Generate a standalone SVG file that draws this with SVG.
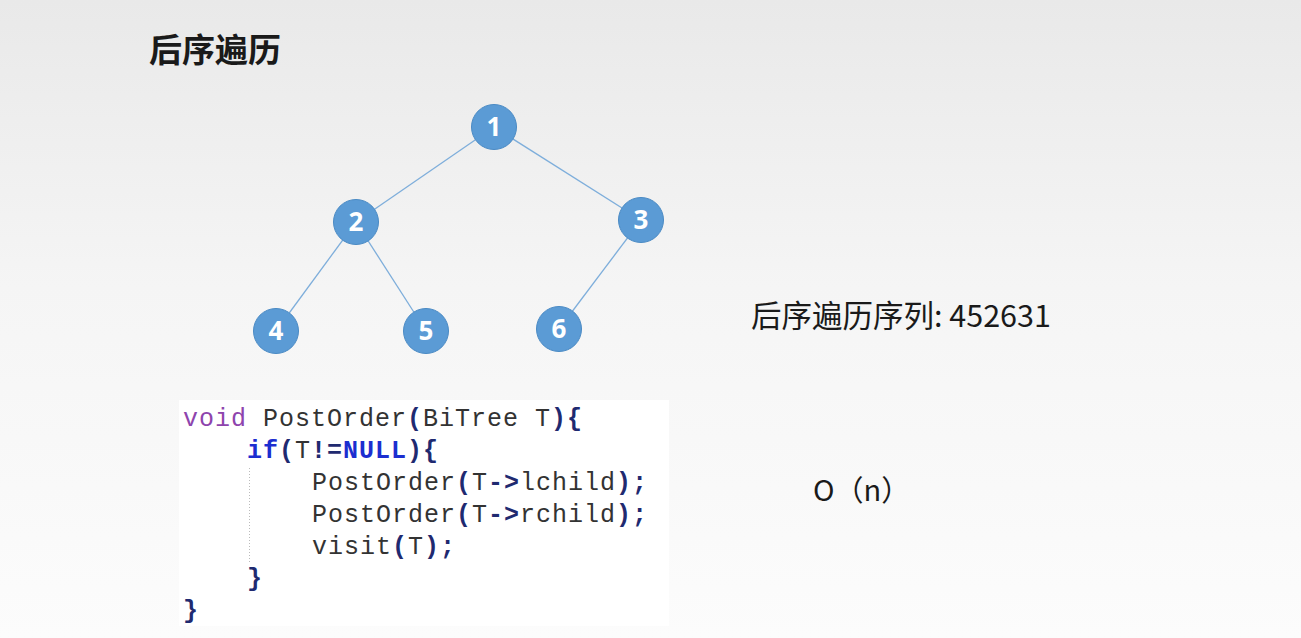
<svg xmlns="http://www.w3.org/2000/svg" width="1301" height="638" viewBox="0 0 1301 638">
<defs>
<linearGradient id="bg" x1="0" y1="0" x2="0" y2="1">
<stop offset="0" stop-color="#e9e9e9"/>
<stop offset="0.45" stop-color="#f5f5f5"/>
<stop offset="1" stop-color="#fcfcfc"/>
</linearGradient>
<style>
.node circle{fill:#5b9bd5;stroke:#4a8ac4;stroke-width:1}
.node text{fill:#fff;font-family:"Noto Sans","Noto Sans CJK SC",sans-serif;font-weight:bold;font-size:26px;text-anchor:middle}
.edge{stroke:#7eaedb;stroke-width:1.3;fill:none}
.code{font-family:"Liberation Mono",monospace;font-size:25px;letter-spacing:1px;fill:#333}
.kw{fill:#8e44ad}
.b{fill:#1f2a70;font-weight:bold}
.bl{fill:#1c2ed0;font-weight:bold}
.cjk{font-family:"Noto Sans CJK SC",sans-serif;fill:#1a1a1a}
</style>
</defs>
<rect width="1301" height="638" fill="url(#bg)"/>
<text class="cjk" x="149" y="62" font-size="33" font-weight="bold">后序遍历</text>
<g id="connectors">
<line class="edge" x1="494" y1="127" x2="356" y2="222"/>
<line class="edge" x1="494" y1="127" x2="641" y2="220"/>
<line class="edge" x1="356" y1="222" x2="276" y2="331"/>
<line class="edge" x1="356" y1="222" x2="426" y2="331"/>
<line class="edge" x1="641" y1="220" x2="559" y2="329"/>
</g>
<g id="n1" class="node"><circle cx="494" cy="127" r="22.5"/><text x="494" y="136">1</text></g>
<g id="n2" class="node"><circle cx="356" cy="222" r="22.5"/><text x="356" y="231">2</text></g>
<g id="n3" class="node"><circle cx="641" cy="220" r="22.5"/><text x="641" y="229">3</text></g>
<g id="n4" class="node"><circle cx="276" cy="331" r="22.5"/><text x="276" y="340">4</text></g>
<g id="n5" class="node"><circle cx="426" cy="331" r="22.5"/><text x="426" y="340">5</text></g>
<g id="n6" class="node"><circle cx="559" cy="329" r="22.5"/><text x="559" y="338">6</text></g>
<text class="cjk" x="751" y="327" font-size="30.5">后序遍历序列: 452631</text>
<text class="cjk" x="813" y="501" font-size="29">O（n）</text>
<g id="code">
<rect x="179" y="400" width="490" height="226" fill="#ffffff"/>
<line x1="249.5" y1="468" x2="249.5" y2="562" stroke="#bbbbbb" stroke-width="1" stroke-dasharray="1,2"/>
<text class="code" x="183" y="426"><tspan class="kw">void</tspan> PostOrder<tspan class="b">(</tspan>BiTree T<tspan class="b">){</tspan></text>
<text class="code" x="247" y="458"><tspan class="bl">if</tspan><tspan class="b">(</tspan>T<tspan class="b">!=</tspan><tspan class="bl">NULL</tspan><tspan class="b">){</tspan></text>
<text class="code" x="312" y="490">PostOrder<tspan class="b">(</tspan>T<tspan class="b">-&gt;</tspan>lchild<tspan class="b">);</tspan></text>
<text class="code" x="312" y="522">PostOrder<tspan class="b">(</tspan>T<tspan class="b">-&gt;</tspan>rchild<tspan class="b">);</tspan></text>
<text class="code" x="312" y="554">visit<tspan class="b">(</tspan>T<tspan class="b">);</tspan></text>
<text class="code" x="247" y="586"><tspan class="b">}</tspan></text>
<text class="code" x="183" y="618"><tspan class="b">}</tspan></text>
</g>
</svg>
